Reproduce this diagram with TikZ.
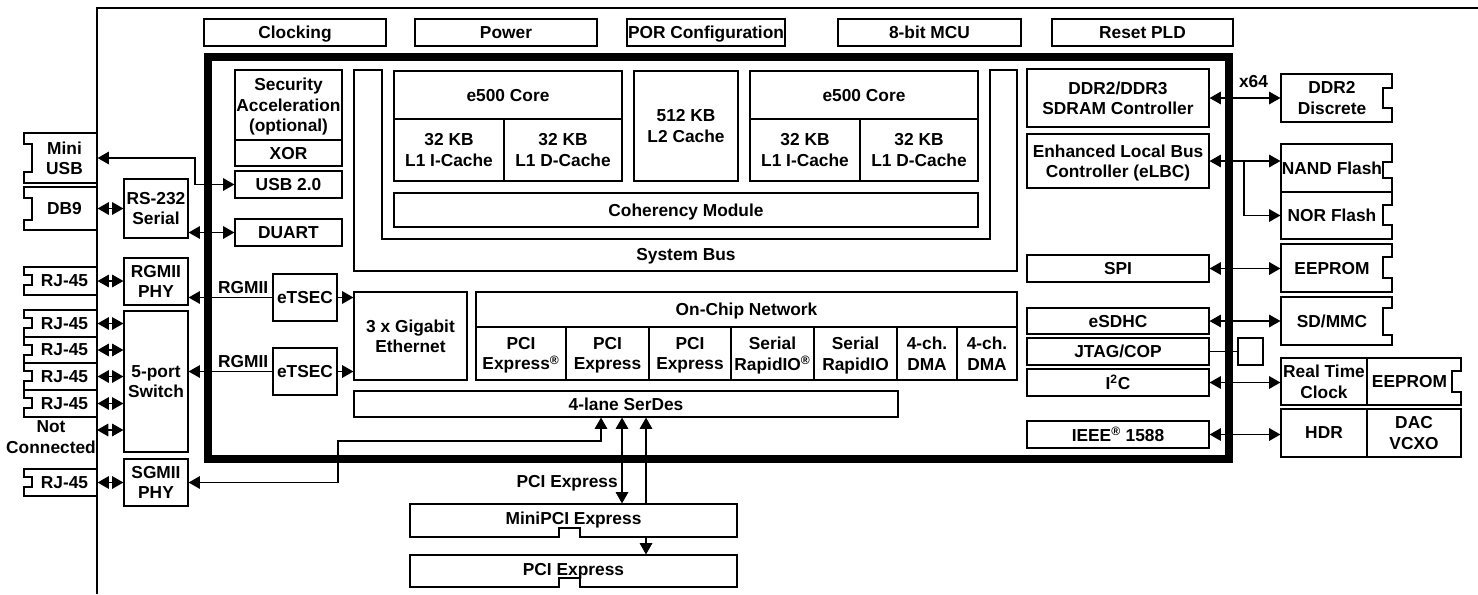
\documentclass[tikz,border=0pt]{standalone}
\usepackage{fontspec}
\setmainfont{Liberation Sans}
\usepackage{tikz}
\usetikzlibrary{arrows.meta}

\newcommand{\pxu}{0.75pt}
\newcommand{\dfont}{\bfseries\fontsize{13}{15.4}\selectfont}
\tikzset{
  blk/.style={draw, line width=0.9pt, inner sep=0pt, align=center, text depth=0pt, font=\dfont},
  port/.style={blk, draw=none},
  lbl/.style={inner sep=0pt, align=center, font=\dfont},
  arr/.style={line width=0.9pt, -{Triangle[length=8.5pt,width=9.5pt]}},
  dblarr/.style={line width=0.9pt, {Triangle[length=8.5pt,width=9.5pt]}-{Triangle[length=8.5pt,width=9.5pt]}},
}
% box from corner to corner, in pixels
\newcommand{\blk}[7][]{\node[blk,#1,minimum width={((#5)-(#3))*\pxu},minimum height={((#6)-(#4))*\pxu}] (#2) at ({((#3)+(#5))/2},{((#4)+(#6))/2}) {#7};}
% connector with notch on the left / right
\newcommand{\lport}[8]{%
  \draw[line width=0.9pt] (#4,#3) -- (#2,#3) -- (#2,#6) -- ({#2+8},#6) -- ({#2+8},#7) -- (#2,#7) -- (#2,#5) -- (#4,#5) -- cycle;
  \node[port,minimum width={((#4)-(#2)-8)*\pxu},minimum height={((#5)-(#3))*\pxu}] (#1) at ({((#2)+8+(#4))/2},{((#3)+(#5))/2}) {#8};}
\newcommand{\rport}[8]{%
  \draw[line width=0.9pt] (#2,#3) -- (#4,#3) -- (#4,#6) -- ({#4-9},#6) -- ({#4-9},#7) -- (#4,#7) -- (#4,#5) -- (#2,#5) -- cycle;
  \node[port,minimum width={((#4)-(#2)-9)*\pxu},minimum height={((#5)-(#3))*\pxu}] (#1) at ({((#2)+(#4)-9)/2},{((#3)+(#5))/2}) {#8};}
\newcommand{\slot}[4]{%
  \draw[line width=0.9pt] (410,#2) -- (737,#2) -- (737,#3) -- (580,#3) -- (580,#3-9) -- (559,#3-9) -- (559,#3) -- (410,#3) -- cycle;
  \node[port,minimum width={327*\pxu},minimum height={((#3)-(#2))*\pxu}] (#1) at (573.5,{((#2)+(#3))/2}) {\raisebox{3pt}{#4}};}

\begin{document}
\begin{tikzpicture}[x=0.75pt,y=-0.75pt]
  \useasboundingbox (0,0) rectangle (1478,594);
  \draw[line width=0.9pt] (97,594) -- (97,8) -- (1478,8);

  \foreach \xa/\xb/\nm/\txt in {204/386/clk/Clocking, 415/597/pwr/Power, 627/785/por/POR Configuration, 838/1021/mcu/8-bit MCU, 1052/1233/rst/Reset PLD}{
    \blk{\nm}{\xa}{19}{\xb}{46}{\txt}
  }

  \draw[line width=6pt] (208,57) rectangle (1229,459);

  \blk{sec}{235}{70}{342}{140}{Security\\Acceleration\\(optional)}
  \blk{xor}{235}{140}{342}{166}{XOR}
  \blk{usb}{235}{171}{342}{198}{USB 2.0}
  \blk{duart}{235}{219}{342}{246}{DUART}

  \draw[line width=0.9pt] (354,70) -- (382,70) -- (382,239) -- (990,239) -- (990,70) -- (1017,70) -- (1017,271) -- (354,271) -- cycle;
  \node[lbl] (sysbus) at (686,256) {System Bus};
  \foreach \xo/\nm in {394/corea, 750/coreb}{
    \blk{\nm}{\xo}{71}{\xo+228}{119}{e500 Core}
    \blk{\nm-i}{\xo}{119}{\xo+110}{181}{32 KB\\L1 I-Cache}
    \blk{\nm-d}{\xo+110}{119}{\xo+228}{181}{32 KB\\L1 D-Cache}
  }
  \blk{ltwo}{634}{71}{738}{181}{512 KB\\L2 Cache}
  \blk{coh}{394}{193}{978}{227}{Coherency Module}

  \blk{gbe}{354}{292}{467}{380}{3 x Gigabit\\Ethernet}
  \blk{ocn}{476}{292}{1017}{327}{On-Chip Network}
  \foreach \xa/\xb/\nm/\txt in {476/566/pcia/{PCI\\Express\textsuperscript{®}}, 566/649/pcib/{PCI\\Express}, 649/731/pcic/{PCI\\Express}, 731/814/srioa/{Serial\\RapidIO\textsuperscript{®}}, 814/897/sriob/{Serial\\RapidIO}, 897/957/dmaa/{4-ch.\\DMA}, 957/1017/dmab/{4-ch.\\DMA}}{
    \blk{\nm}{\xa}{327}{\xb}{380}{\txt}
  }
  \blk{serdes}{354}{391}{898}{417}{4-lane SerDes}
  \blk{etseca}{273}{274}{337}{321}{eTSEC}
  \blk{etsecb}{273}{348}{337}{395}{eTSEC}
  \node[lbl, anchor=south east, inner sep=3pt] (rgmiia) at (etseca.west) {RGMII};
  \node[lbl, anchor=south east, inner sep=3pt] (rgmiib) at (etsecb.west) {RGMII};

  \blk{ddr}{1027}{69}{1209}{127}{DDR2/DDR3\\SDRAM Controller}
  \blk{elbc}{1027}{134}{1209}{188}{Enhanced Local Bus\\Controller (eLBC)}
  \blk{spi}{1027}{255}{1209}{282}{SPI}
  \blk{esdhc}{1027}{308}{1209}{334}{eSDHC}
  \blk{jtag}{1027}{338}{1209}{365}{JTAG/COP}
  \blk{itwoc}{1027}{369}{1209}{396}{I\textsuperscript{2}C}
  \blk{ieee}{1027}{421}{1209}{448}{IEEE\textsuperscript{®} 1588}

  \lport{miniusb}{24}{133}{97}{183}{144}{172}{Mini\\USB}
  \lport{dbnine}{24}{187}{97}{230}{198}{220}{DB9}
  \lport{rja}{24}{267}{97}{295}{275}{285}{RJ-45}
  \foreach \ya/\yb/\nm in {310/337/rjb, 337/363/rjc, 363/390/rjd, 390/417/rje}{
    \lport{\nm}{24}{\ya}{97}{\yb}{\ya+8}{\ya+18}{RJ-45}
  }
  \lport{rjf}{24}{469}{97}{496}{477}{487}{RJ-45}
  \foreach \ys in {337,363,390}
    \draw[line width=1.8pt] (24,\ys) -- (97,\ys);
  \node[lbl] (nc) at (51,437) {Not\\Connected};
  \coordinate (ncport) at (97,430);

  \blk{rs}{124}{179}{188}{238}{RS-232\\Serial}
  \blk{rgphy}{124}{258}{188}{305}{RGMII\\PHY}
  \blk{sw}{124}{311}{188}{452}{5-port\\Switch}
  \blk{sgphy}{124}{459}{188}{506}{SGMII\\PHY}

  \rport{ddtwo}{1281}{74}{1392}{122}{88}{108}{DDR2\\Discrete}
  \rport{nand}{1281}{144}{1392}{192}{162}{178}{NAND Flash}
  \rport{nor}{1281}{192}{1392}{239}{205}{225}{NOR Flash}
  \draw[line width=1.8pt] (1281,192) -- (1392,192);
  \rport{eepa}{1281}{244}{1392}{292}{257}{278}{EEPROM}
  \rport{sdmmc}{1281}{297}{1392}{345}{308}{335}{SD/MMC}
  \blk{cop}{1238}{338}{1263}{365}{}
  \blk{rtc}{1281}{358}{1367}{405}{Real Time\\Clock}
  \rport{eepb}{1367}{358}{1461}{405}{371}{392}{EEPROM}
  \blk{hdr}{1281}{409}{1367}{457}{HDR}
  \blk{dac}{1367}{409}{1461}{457}{DAC\\VCXO}

  \slot{minipci}{504}{537}{MiniPCI Express}
  \slot{pcie}{555}{587}{PCI Express}

  \coordinate (usbjog) at (195,0);
  \coordinate (sgjog) at (338,441);
  \coordinate (lna) at (601,441);
  \coordinate (lnb) at (622,0);
  \coordinate (lnc) at (646,0);
  \coordinate (brn) at (1244,0);

  \draw[dblarr] (miniusb.east) -| (miniusb.east -| usbjog) |- (usb.west);
  \draw[dblarr] (dbnine.east) -- (dbnine.east -| rs.west);
  \draw[dblarr] (duart.west -| rs.east) -- (duart.west);
  \draw[dblarr] (rja.east) -- (rja.east -| rgphy.west);
  \draw[arr] (etseca.west) -- (etseca.west -| rgphy.east);
  \draw[arr] (etsecb.west) -- (etsecb.west -| sw.east);
  \draw[arr] (etseca.east) -- (etseca.east -| gbe.west);
  \draw[arr] (etsecb.east) -- (etsecb.east -| gbe.west);
  \foreach \nm in {rjb,rjc,rjd,rje,ncport}
    \draw[dblarr] (\nm.east) -- (\nm.east -| sw.west);
  \draw[dblarr] (rjf.east) -- (rjf.east -| sgphy.west);
  \draw[dblarr] (sgphy.east) -| (sgjog) -- (lna) -- (serdes.south -| lna);
  \draw[dblarr] (serdes.south -| lnb) -- (minipci.north -| lnb);
  \draw[arr] (minipci.north -| lnc) -- (serdes.south -| lnc);
  \draw[arr] (minipci.south -| lnc) -- (pcie.north -| lnc);
  \node[lbl, anchor=east] (pcielbl) at (618,483) {PCI Express};

  \draw[dblarr] (ddr.east) -- node[lbl, above=7pt, pos=0.62] (xsf) {x64} (ddr.east -| ddtwo.west);
  \draw[dblarr] (elbc.east) -- (elbc.east -| nand.west);
  \draw[arr] (elbc.east -| brn) |- (nor.west);
  \draw[dblarr] (spi.east) -- (spi.east -| eepa.west);
  \draw[dblarr] (esdhc.east) -- (esdhc.east -| sdmmc.west);
  \draw[line width=0.9pt] (jtag.east) -- (cop.west);
  \draw[dblarr] (itwoc.east) -- (itwoc.east -| rtc.west);
  \draw[dblarr] (ieee.east) -- (ieee.east -| hdr.west);
\end{tikzpicture}
\end{document}
